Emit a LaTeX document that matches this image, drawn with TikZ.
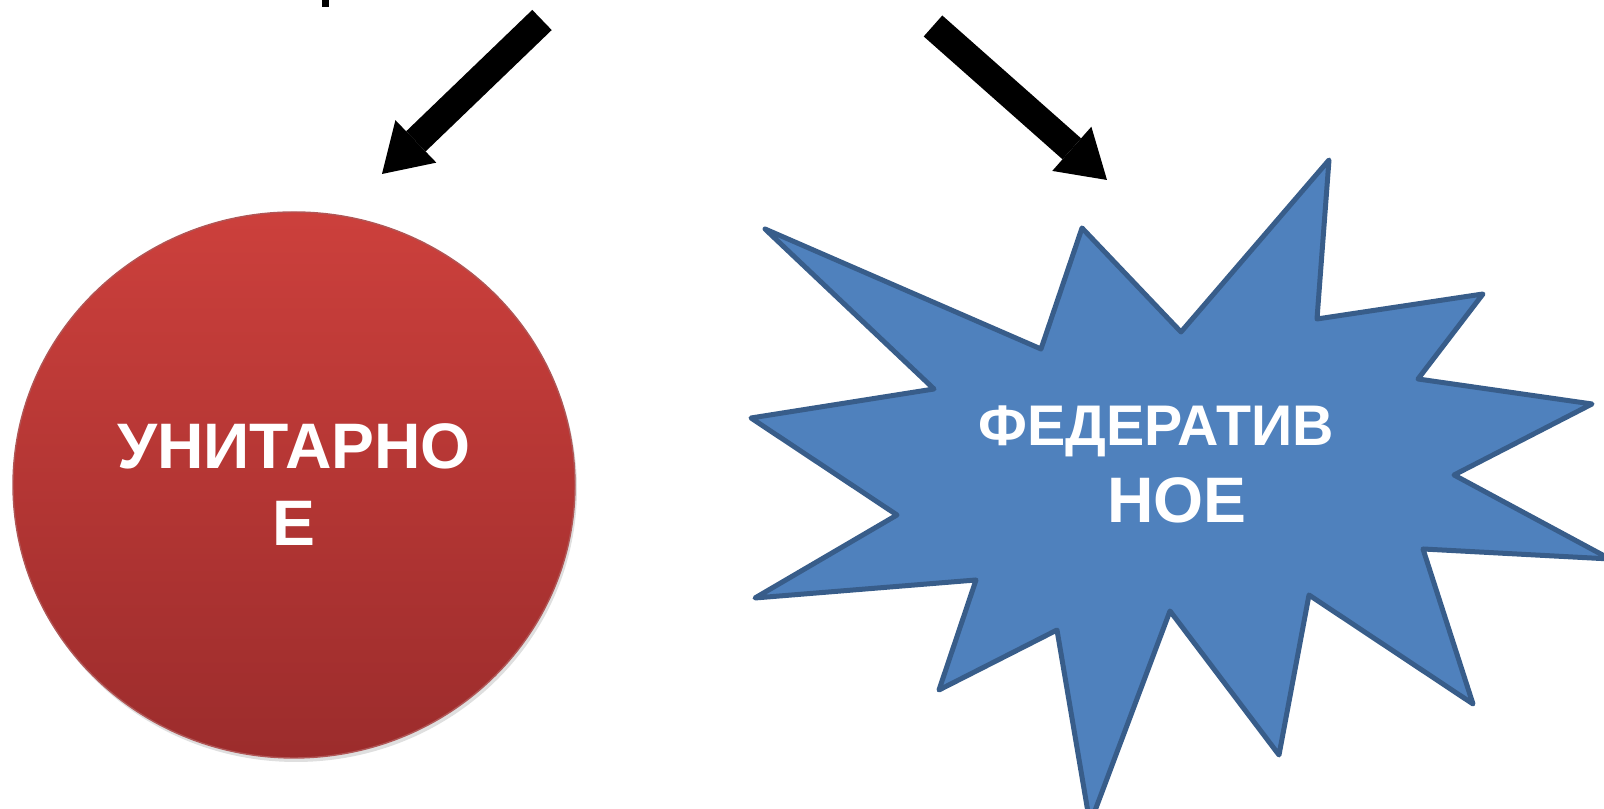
\documentclass[tikz,border=0pt]{standalone}
\usepackage{fontspec}
\setmainfont{Liberation Sans}
\usetikzlibrary{shapes.geometric, arrows.meta, shadows}

\definecolor{unitop}{RGB}{204,64,60}
\definecolor{unibot}{RGB}{156,44,44}
\definecolor{fedfill}{RGB}{79,129,189}
\definecolor{fededge}{RGB}{56,93,138}

\begin{document}
\begin{tikzpicture}[
    bigtext/.style={text=white, font=\fontsize{18.3}{21.9}\selectfont\bfseries, align=center},
    pointer/.style={line width=0.28cm, -{Triangle[width=0.59cm, length=0.47cm, line width=0pt]}}
    ]
    \useasboundingbox (0, 0) rectangle (16.04, 8.09);
    \clip (0, 0) rectangle (16.04, 8.09);

    %Nodes
    \node[ellipse, minimum width=5.62cm, minimum height=5.46cm, top color=unitop, bottom color=unibot,
          draw=unibot!80!white, thin,
          drop shadow={opacity=0.25, shadow xshift=0.02cm, shadow yshift=-0.04cm},
          bigtext] at (2.94, 3.24) (uni) {УНИТАРНО\\Е};

    \draw[fill=fedfill, draw=fededge, line width=0.05cm, line join=round]
        (7.65, 5.80) -- (10.41, 4.60) -- (10.82, 5.81) -- (11.81, 4.77)
        -- (13.29, 6.49) -- (13.17, 4.90) -- (14.83, 5.15) -- (14.18, 4.30)
        -- (15.92, 4.05) -- (14.54, 3.34) -- (16.10, 2.50) -- (14.23, 2.60)
        -- (14.73, 1.05) -- (13.09, 2.14) -- (12.79, 0.54) -- (11.70, 1.98)
        -- (10.90, -0.15) -- (10.57, 1.79) -- (9.39, 1.19) -- (9.76, 2.29)
        -- (7.55, 2.11) -- (8.97, 2.94) -- (7.51, 3.91) -- (9.34, 4.20) -- cycle;
    \node[bigtext] at (11.56, 3.45) (fed) {{\fontsize{16.3}{21.9}\selectfont ФЕДЕРАТИВ}\\\hspace*{0.42cm}НОЕ};

    \coordinate (ltail) at (5.42, 7.89);
    \coordinate (ltip) at (3.82, 6.35);
    \coordinate (rtail) at (9.33, 7.83);
    \coordinate (rtip) at (11.07, 6.29);

    %Lines
    \fill (3.22, 8.02) rectangle (3.29, 8.09);
    \draw[pointer] (ltail) -- (ltip);
    \draw[pointer] (rtail) -- (rtip);
\end{tikzpicture}
\end{document}
